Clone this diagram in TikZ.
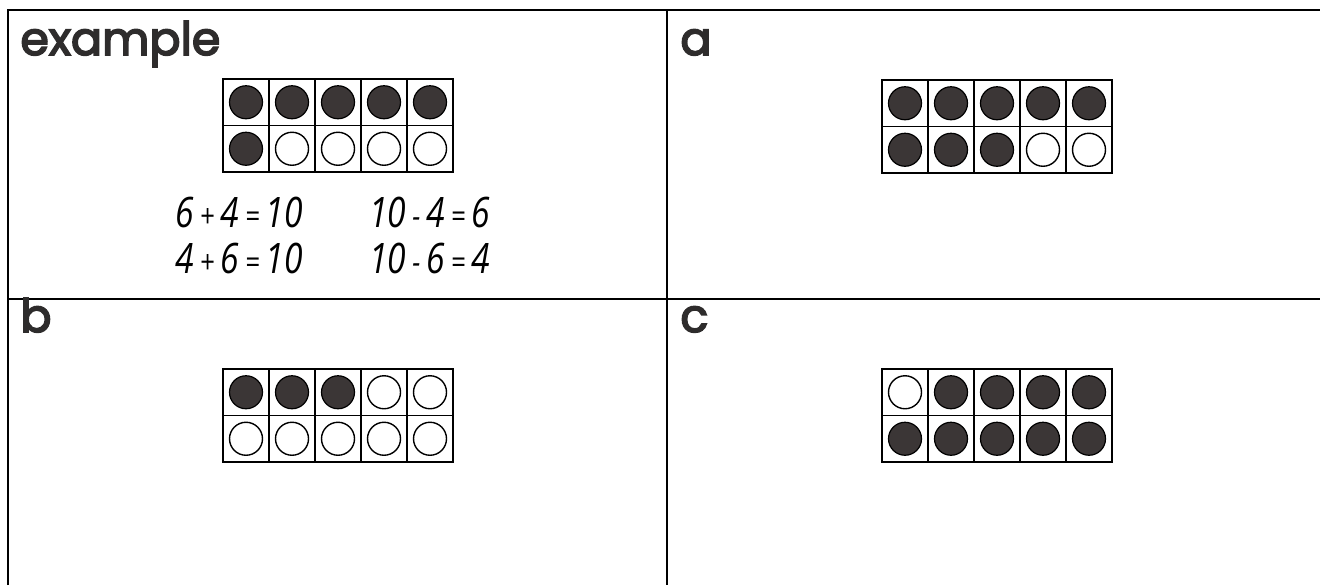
\documentclass[tikz,border=0pt]{standalone}
\usepackage{fontspec}
\usepackage{xcolor}
\setmainfont{Poppins}
\newfontfamily\labelfont{Poppins}[FakeBold=3.5]
\newfontfamily\handfont{Open Sans}[FakeStretch=0.8]
\definecolor{dotgray}{HTML}{3B3636}
\definecolor{inkgray}{HTML}{2E2C2C}

% small operator sign in the number facts
\newcommand{\opsign}[1]{\hspace{3pt}{\fontsize{16}{16}\selectfont #1}\hspace{3pt}}

% ten-frame: top-left corner, then ten entries (1 = filled dot)
\newcommand{\tenframe}[3]{%
  \foreach \v [count=\i from 0] in {#3} {
    \pgfmathtruncatemacro{\col}{mod(\i,5)}
    \pgfmathtruncatemacro{\row}{div(\i,5)}
    \ifnum\v=1
      \fill[dotgray, draw=black, line width=0.6] (#1+23+46*\col, #2+23.25+46.5*\row) circle (16.5);
    \else
      \draw[black, line width=0.7] (#1+23+46*\col, #2+23.25+46.5*\row) circle (16.5);
    \fi
  }
  \draw[line width=0.8] (#1,#2+46.5) -- (#1+230,#2+46.5);
  \foreach \k in {1,...,4}
    \draw[line width=0.8] (#1+46*\k,#2) -- (#1+46*\k,#2+93);
  \draw[line width=1.1] (#1,#2) rectangle (#1+230,#2+93);
}

\begin{document}
\begin{tikzpicture}[x=0.5pt, y=-0.5pt]
  \useasboundingbox (0,0) rectangle (1320,585);
  % panel frame
  \draw[line width=1.1] (8,585) -- (8,10) -- (1320,10);
  \draw[line width=1] (8,299) -- (1320,299);
  \draw[line width=1] (667,10) -- (667,585);
  % panel labels
  \tikzset{panel/.style={anchor=base west, inner sep=0, text=inkgray,
      font=\labelfont\fontsize{23}{26}\selectfont}}
  \node[panel] (lex) at (20,55) {example};
  \node[panel] (la) at (680,55) {a};
  \node[panel] (lb) at (20,332) {b};
  \node[panel] (lc) at (680,332) {c};
  % ten-frames
  \tenframe{223}{79}{1,1,1,1,1,1,0,0,0,0}
  \tenframe{882}{80}{1,1,1,1,1,1,1,1,0,0}
  \tenframe{223}{369}{1,1,1,0,0,0,0,0,0,0}
  \tenframe{882}{369}{0,1,1,1,1,1,1,1,1,1}
  % number facts
  \tikzset{fact/.style={anchor=base west, inner sep=0, text=black,
      font=\handfont\itshape\fontsize{21}{22}\selectfont}}
  \node[fact] (f1) at (175,227) {6\opsign{+}4\opsign{=}10};
  \node[fact] (f2) at (175,273) {4\opsign{+}6\opsign{=}10};
  \node[fact] (f3) at (369,227) {10\opsign{-}4\opsign{=}6};
  \node[fact] (f4) at (369,273) {10\opsign{-}6\opsign{=}4};
\end{tikzpicture}
\end{document}
